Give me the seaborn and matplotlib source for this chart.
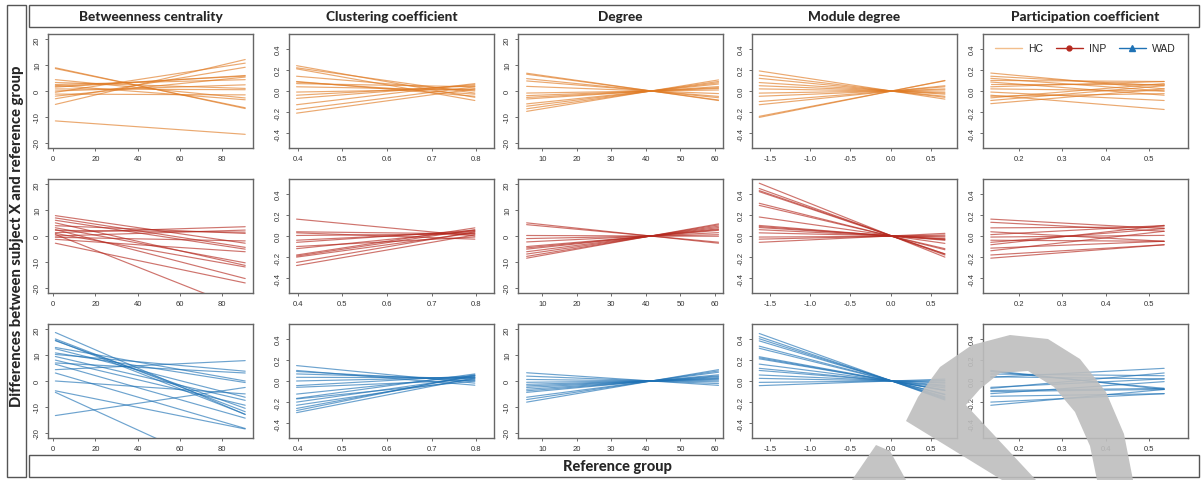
import numpy as np
import pandas as pd
import seaborn as sns
import matplotlib.pyplot as plt
from matplotlib.patches import Rectangle, Polygon
from matplotlib.lines import Line2D

sns.set_style('white')
plt.rcParams['font.family'] = ['Liberation Sans', 'DejaVu Sans']
plt.rcParams['axes.unicode_minus'] = False

W, H = 1204, 481

measures = ['Betweenness centrality', 'Clustering coefficient', 'Degree',
            'Module degree', 'Participation coefficient']
groups = ['HC', 'INP', 'WAD']
group_colors = ['#E07B24', '#B5291F', '#1F72B5']
legend_colors = ['#F2BE8C', '#B5291F', '#1F72B5']

# reference-group range covered by the fitted lines, per measure
x_from = [1, 0.397, 5.5, -1.63, 0.135]
x_to = [91, 0.797, 61, 0.67, 0.535]

x_ticks = [[0, 20, 40, 60, 80],
           [0.4, 0.5, 0.6, 0.7, 0.8],
           [10, 20, 30, 40, 50, 60],
           [-1.5, -1.0, -0.5, 0.0, 0.5],
           [0.2, 0.3, 0.4, 0.5]]
x_labels = [['0', '20', '40', '60', '80'],
            ['0.4', '0.5', '0.6', '0.7', '0.8'],
            ['10', '20', '30', '40', '50', '60'],
            ['-1.5', '-1.0', '-0.5', '0.0', '0.5'],
            ['0.2', '0.3', '0.4', '0.5']]
y_ticks_big = [-20, -10, 0, 10, 20]
y_ticks_small = [-0.4, -0.2, 0.0, 0.2, 0.4]

# HC: value at left end / right end of each subject line
hc_bc_left = [9.0, 8.7, 4.4, 3.3, 1.8, 1.5, 0.0, -1.2, -2.0, -3.0, -5.2, -0.5, 2.2, -11.6, 0.8, 2.5]
hc_bc_right = [-6.8, -6.5, -2.7, 1.0, 5.8, 6.0, 2.4, -1.5, 5.4, 9.2, 12.2, 10.8, -3.4, -16.8, 0.5, 4.4]
hc_cc_left = [0.24, 0.21, 0.22, 0.14, 0.085, 0.07, 0.04, -0.01, -0.04, -0.07, -0.13, -0.175, -0.21, 0.09]
hc_cc_right = [-0.06, -0.09, -0.02, 0.0, -0.03, 0.04, 0.01, 0.02, 0.05, 0.06, 0.07, 0.04, 0.02, -0.05]
hc_deg_left = [6.9, 6.5, 4.8, 3.9, 1.8, -0.8, -1.8, -3.1, -5.0, -5.9, -6.9, -7.9, -2.5]
hc_deg_right = [-3.7, -3.5, -2.6, -2.1, -1.0, 0.4, 1.0, 1.7, 2.7, 3.2, 3.7, 4.3, 1.3]
hc_md_left = [0.19, 0.15, 0.12, 0.08, 0.05, 0.02, -0.02, -0.05, -0.10, -0.13, -0.25, -0.24]
hc_md_right = [-0.077, -0.06, -0.05, -0.03, -0.02, -0.01, 0.01, 0.02, 0.04, 0.05, 0.10, 0.097]
hc_pc_left = [0.17, 0.14, 0.12, 0.085, 0.07, 0.04, -0.01, -0.04, -0.065, -0.09, -0.12, 0.10, -0.05, 0.02]
hc_pc_right = [0.02, 0.05, 0.0, -0.04, 0.07, 0.09, -0.09, -0.175, 0.07, 0.05, 0.02, 0.09, -0.025, 0.0]

# INP
inp_bc_left = [7.9, 7.0, 6.1, 5.1, 3.2, 2.2, 1.3, 0.6, 0.0, -1.3, -2.8, 1.0, 2.5, -0.5, 4.0]
inp_bc_right = [-2.8, -4.4, -5.1, -11.4, -10.4, 1.5, 3.6, -28.5, 2.3, -6.1, -18.2, -12.0, -16.5, -1.9, 1.0]
inp_cc_left = [0.16, 0.04, 0.03, 0.005, -0.04, -0.12, -0.18, -0.19, -0.20, -0.25, -0.28, -0.10, -0.06]
inp_cc_right = [0.0, 0.02, -0.03, 0.02, 0.04, 0.05, 0.077, 0.06, 0.03, 0.04, 0.01, -0.01, 0.054]
inp_deg_left = [5.1, 4.4, 0.2, -2.3, -4.1, -4.6, -5.1, -6.1, -7.0, -7.9, -8.6, -1.0]
inp_deg_right = [-2.8, -2.4, -0.1, 1.3, 2.2, 2.5, 2.8, 3.3, 3.8, 4.3, 4.7, 0.5]
inp_md_left = [0.50, 0.45, 0.43, 0.42, 0.31, 0.29, 0.18, 0.10, 0.08, 0.06, 0.03, -0.01, -0.03, -0.06, 0.09]
inp_md_right = [-0.20, -0.18, -0.17, -0.17, -0.13, -0.12, -0.07, -0.04, -0.03, -0.025, -0.01, 0.0, 0.01, 0.025, -0.035]
inp_pc_left = [0.16, 0.13, 0.077, 0.013, -0.01, -0.04, -0.083, -0.115, -0.14, -0.18, -0.21, -0.06, 0.04]
inp_pc_right = [0.07, 0.045, 0.086, 0.10, 0.006, -0.05, 0.10, -0.05, 0.045, -0.083, -0.083, 0.07, -0.05]

# WAD
wad_bc_left = [18.8, 16.3, 15.8, 15.6, 12.5, 10.9, 10.3, 8.1, 6.5, 4.4, 3.1, 0.0, -3.8, -13.4, -4.4, 9.5, 7.0, 13.0]
wad_bc_right = [-13.0, -11.9, -12.9, -10.6, -6.3, -0.6, 3.8, -9.4, -14.4, 7.9, -18.4, -5.0, -18.6, -2.5, -38.0, -7.5, 3.1, 0.0]
wad_cc_left = [0.146, 0.10, 0.09, 0.067, 0.035, 0.0, -0.044, -0.124, -0.165, -0.20, -0.23, -0.26, -0.30, -0.17, -0.06, -0.28]
wad_cc_right = [-0.02, -0.04, 0.0, 0.02, 0.03, 0.035, 0.05, 0.05, 0.067, 0.04, 0.02, 0.05, 0.03, 0.0, 0.01, 0.06]
wad_deg_left = [3.2, 1.9, 0.6, -1.3, -1.9, -3.2, -3.8, -4.4, -6.3, -7.2, -8.2, -2.5, -0.5]
wad_deg_right = [-1.7, -1.0, -0.3, 0.7, 1.0, 1.7, 2.0, 2.4, 3.4, 3.9, 4.4, 1.3, 0.3]
wad_md_left = [0.45, 0.42, 0.40, 0.38, 0.33, 0.31, 0.23, 0.21, 0.22, 0.16, 0.12, 0.10, 0.057, 0.025, -0.013, -0.044]
wad_md_right = [-0.18, -0.17, -0.16, -0.15, -0.13, -0.125, -0.09, -0.085, -0.09, -0.065, -0.05, -0.04, -0.02, -0.01, 0.005, 0.018]
wad_pc_left = [0.10, 0.09, 0.066, 0.035, 0.04, -0.07, -0.09, -0.12, -0.145, -0.23, -0.06, -0.10, -0.20]
wad_pc_right = [-0.08, -0.07, 0.05, 0.12, 0.02, 0.076, -0.07, -0.006, -0.12, -0.08, 0.02, -0.08, -0.12]

panels = [
    [(hc_bc_left, hc_bc_right), (hc_cc_left, hc_cc_right), (hc_deg_left, hc_deg_right),
     (hc_md_left, hc_md_right), (hc_pc_left, hc_pc_right)],
    [(inp_bc_left, inp_bc_right), (inp_cc_left, inp_cc_right), (inp_deg_left, inp_deg_right),
     (inp_md_left, inp_md_right), (inp_pc_left, inp_pc_right)],
    [(wad_bc_left, wad_bc_right), (wad_cc_left, wad_cc_right), (wad_deg_left, wad_deg_right),
     (wad_md_left, wad_md_right), (wad_pc_left, wad_pc_right)],
]

# layout in pixels
col_left = [48, 289, 518, 752, 983]
col_width = 205
row_top = [35, 180, 325]
row_height = 114
x_lims = [(-2.5, 94.7), (0.38, 0.84), (3.0, 62.3), (-1.72, 0.82), (0.117, 0.59)]
y_big = (-22.1, 22.1)
y_small = (-0.54, 0.54)


def px(x, y):
    return x / W, 1 - y / H


def panel_frame(left, right, x0, x1):
    rows = []
    for i, (a, b) in enumerate(zip(left, right)):
        rows.append({'line': i, 'x': x0, 'y': a})
        rows.append({'line': i, 'x': x1, 'y': b})
    return pd.DataFrame(rows)


def main():
    fig = plt.figure(figsize=(W / 100, H / 100), dpi=100)
    frame_kw = dict(fill=False, edgecolor='#555555', lw=1.0, transform=fig.transFigure)

    # header, left and bottom boxes
    fig.add_artist(Rectangle(px(29, 28), 1170 / W, 22 / H, **frame_kw))
    fig.add_artist(Rectangle(px(7, 478), 19 / W, 472 / H, **frame_kw))
    fig.add_artist(Rectangle(px(29, 478), 1170 / W, 22 / H, **frame_kw))

    title_font = dict(family=['Lato', 'DejaVu Sans'], fontweight='black', fontsize=9.8)
    fig.text(*px(17, 236), 'Differences between subject X and reference group',
             rotation=90, ha='center', va='center',
             family=['Lato', 'DejaVu Sans'], fontweight='black', fontsize=10.6)
    fig.text(*px(617, 467), 'Reference group', ha='center', va='center',
             family=['Lato', 'DejaVu Sans'], fontweight='black', fontsize=10.5)

    for r in range(3):
        for c in range(5):
            l, b = px(col_left[c], row_top[r] + row_height)
            ax = fig.add_axes([l, b, col_width / W, row_height / H])
            left, right = panels[r][c]
            df = panel_frame(left, right, x_from[c], x_to[c])
            sns.lineplot(data=df, x='x', y='y', units='line', estimator=None,
                         color=group_colors[r], lw=0.85, alpha=0.65, ax=ax, legend=False)
            ax.set_xlim(x_lims[c])
            if c in (0, 2):
                ax.set_ylim(y_big)
                ax.set_yticks(y_ticks_big)
                ax.set_yticklabels([str(v) for v in y_ticks_big])
            else:
                ax.set_ylim(y_small)
                ax.set_yticks(y_ticks_small)
                ax.set_yticklabels([f'{v:.1f}' for v in y_ticks_small])
            ax.set_xticks(x_ticks[c])
            ax.set_xticklabels(x_labels[c])
            ax.set_xlabel('')
            ax.set_ylabel('')
            ax.tick_params(direction='out', length=2.5, width=0.6, colors='#555555',
                           labelcolor='#333333', labelsize=5.5, pad=2.5,
                           left=True, bottom=True)
            for lab in ax.get_yticklabels():
                lab.set_rotation(90)
                lab.set_va('center')
            for sp in ax.spines.values():
                sp.set_color('#666666')
                sp.set_linewidth(1.0)

            if r == 0:
                xc = (col_left[c] + col_width / 2) / W
                fig.text(xc, 1 - 17 / H, measures[c], ha='center', va='center', **title_font)

            if r == 0 and c == 4:
                handles = [Line2D([], [], color=legend_colors[0], lw=1.0),
                           Line2D([], [], color=legend_colors[1], lw=1.0, marker='o', markersize=3.5),
                           Line2D([], [], color=legend_colors[2], lw=1.0, marker='^', markersize=4)]
                ax.legend(handles, groups, loc='upper center', bbox_to_anchor=(0.5, 1.0),
                          ncol=3, frameon=False, fontsize=7.5, handlelength=2.6,
                          columnspacing=1.2, handletextpad=0.6)

    # grey arc shape over the lower right corner
    arc = [(1002, 481), (906, 422), (918, 398), (940, 368), (972, 346), (1010, 336),
           (1048, 340), (1080, 360), (1106, 393), (1124, 435), (1133, 481), (1097, 481),
           (1090, 447), (1075, 413), (1054, 388), (1028, 372), (1000, 374), (980, 390),
           (966, 406), (1036, 481)]
    slash = [(852, 481), (876, 446), (890, 452), (906, 481)]
    for shape in (arc, slash):
        fig.add_artist(Polygon([px(x, y) for x, y in shape], closed=True,
                               facecolor='#BEBEBE', edgecolor='none', alpha=0.9,
                               transform=fig.transFigure, zorder=10))

    fig.savefig('out.png', dpi=100)
    plt.close()


if __name__ == '__main__':
    main()
